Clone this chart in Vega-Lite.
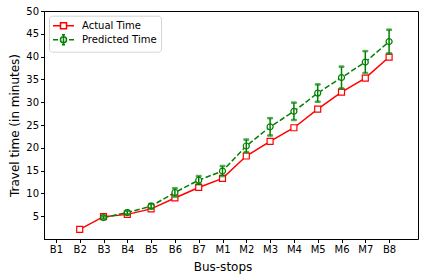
{
  "$schema": "https://vega.github.io/schema/vega-lite/v6.json",
  "width": 374,
  "height": 228,
  "autosize": "none",
  "padding": {"left": 44, "top": 11, "right": 6, "bottom": 41},
  "background": "white",
  "config": {
    "font": "DejaVu Sans",
    "view": {"stroke": "black", "strokeWidth": 1},
    "axis": {
      "grid": false,
      "domainColor": "black",
      "tickColor": "black",
      "tickSize": 3.5,
      "labelColor": "black",
      "labelFontSize": 10,
      "labelPadding": 2,
      "titleFontSize": 12,
      "titleFontWeight": "normal",
      "titleColor": "black"
    }
  },
  "data": {
    "values": [
      {"stop": "B2", "series": "Actual Time", "time": 2.1, "err": null},
      {"stop": "B3", "series": "Actual Time", "time": 4.9, "err": null},
      {"stop": "B4", "series": "Actual Time", "time": 5.4, "err": null},
      {"stop": "B5", "series": "Actual Time", "time": 6.6, "err": null},
      {"stop": "B6", "series": "Actual Time", "time": 9.0, "err": null},
      {"stop": "B7", "series": "Actual Time", "time": 11.3, "err": null},
      {"stop": "M1", "series": "Actual Time", "time": 13.3, "err": null},
      {"stop": "M2", "series": "Actual Time", "time": 18.2, "err": null},
      {"stop": "M3", "series": "Actual Time", "time": 21.4, "err": null},
      {"stop": "M4", "series": "Actual Time", "time": 24.4, "err": null},
      {"stop": "M5", "series": "Actual Time", "time": 28.5, "err": null},
      {"stop": "M6", "series": "Actual Time", "time": 32.2, "err": null},
      {"stop": "M7", "series": "Actual Time", "time": 35.3, "err": null},
      {"stop": "B8", "series": "Actual Time", "time": 39.9, "err": null},
      {"stop": "B3", "series": "Predicted Time", "time": 4.7, "err": 0.3},
      {"stop": "B4", "series": "Predicted Time", "time": 5.8, "err": 0.4},
      {"stop": "B5", "series": "Predicted Time", "time": 7.2, "err": 0.5},
      {"stop": "B6", "series": "Predicted Time", "time": 10.2, "err": 0.9},
      {"stop": "B7", "series": "Predicted Time", "time": 12.9, "err": 0.9},
      {"stop": "M1", "series": "Predicted Time", "time": 14.9, "err": 1.1},
      {"stop": "M2", "series": "Predicted Time", "time": 20.4, "err": 1.4},
      {"stop": "M3", "series": "Predicted Time", "time": 24.6, "err": 1.9},
      {"stop": "M4", "series": "Predicted Time", "time": 28.0, "err": 1.9},
      {"stop": "M5", "series": "Predicted Time", "time": 32.0, "err": 1.9},
      {"stop": "M6", "series": "Predicted Time", "time": 35.4, "err": 2.4},
      {"stop": "M7", "series": "Predicted Time", "time": 38.8, "err": 2.4},
      {"stop": "B8", "series": "Predicted Time", "time": 43.3, "err": 2.6}
    ]
  },
  "encoding": {
    "x": {
      "field": "stop",
      "type": "ordinal",
      "sort": null,
      "scale": {
        "type": "point",
        "domain": ["B1", "B2", "B3", "B4", "B5", "B6", "B7", "M1", "M2", "M3", "M4", "M5", "M6", "M7", "B8"],
        "range": [0, 357]
      },
      "axis": {"title": "Bus-stops", "labelAngle": 0, "titlePadding": 7}
    },
    "y": {
      "field": "time",
      "type": "quantitative",
      "scale": {"domain": [0, 50], "nice": false, "zero": false},
      "axis": {
        "title": "Travel time (in minutes)",
        "values": [5, 10, 15, 20, 25, 30, 35, 40, 45, 50],
        "titlePadding": 4
      }
    },
    "stroke": {
      "field": "series",
      "type": "nominal",
      "scale": {"domain": ["Actual Time", "Predicted Time"], "range": ["#ff0000", "#008000"]},
      "legend": {
        "title": null,
        "orient": "none",
        "legendX": 5,
        "legendY": 4.7,
        "fillColor": "white",
        "strokeColor": "#d6d6d6",
        "cornerRadius": 3,
        "padding": 4,
        "labelFontSize": 10,
        "labelColor": "black",
        "labelOffset": 17,
        "symbolSize": 100,
        "symbolStrokeWidth": 1.5,
        "symbolFillColor": "white",
        "symbolDash": [],
        "rowPadding": 0,
        "encode": {
          "symbols": {
            "update": {
              "shape": {"signal": "datum.value === 'Actual Time' ? 'M-1.2,0H0.3M1.5,0H3M0.3,-0.6H1.5V0.6H0.3Z' : 'M-1.2,0H-0.2M2,0H3M1.5,0A0.6,0.6 0 1,1 0.3,0A0.6,0.6 0 1,1 1.5,0M0.9,-1V1M0.6,-1H1.2M0.6,1H1.2'"},
              "fill": {"value": "white"},
              "fillOpacity": {"value": 1}
            }
          }
        }
      }
    }
  },
  "layer": [
    {
      "transform": [{"filter": "datum.series === 'Actual Time'"}],
      "mark": {"type": "line", "strokeWidth": 1.5}
    },
    {
      "transform": [{"filter": "datum.series === 'Predicted Time'"}],
      "mark": {"type": "line", "strokeWidth": 1.5, "strokeDash": [5.5, 2.4]}
    },
    {
      "transform": [{"filter": "datum.series === 'Actual Time'"}],
      "mark": {"type": "point", "shape": "square", "filled": false, "fill": "white", "fillOpacity": 1, "strokeWidth": 1.2, "size": 36, "opacity": 1}
    },
    {
      "transform": [{"filter": "datum.series === 'Predicted Time'"}],
      "mark": {"type": "point", "shape": "circle", "filled": false, "fill": "white", "fillOpacity": 1, "strokeWidth": 1.2, "size": 36, "opacity": 1}
    },
    {
      "transform": [{"filter": "datum.series === 'Predicted Time'"}],
      "mark": {"type": "errorbar", "color": "#008000", "thickness": 1.5, "ticks": {"size": 5, "thickness": 1.5}},
      "encoding": {
        "yError": {"field": "err"}
      }
    }
  ]
}
